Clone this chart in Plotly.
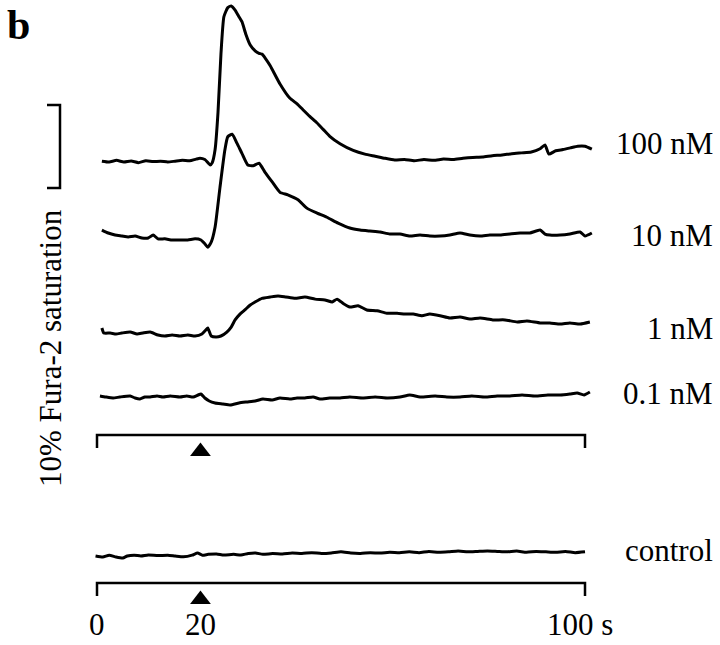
import plotly.graph_objects as go

# Fura-2 responses: time (s) and change in saturation (%) from each cell's resting level
TIME_100NM = [1.0, 2.5, 4.0, 5.5, 7.0, 8.5, 10.0, 11.5, 13.0, 14.5,
              16.0, 17.5, 19.0, 20.3, 21.1, 22.1, 23.2, 23.6, 24.2, 24.8,
              25.4, 26.0, 26.8, 27.5, 28.3, 29.0, 29.7, 30.5, 31.4, 32.4,
              33.2, 33.8, 34.6, 35.5, 37.5, 39.5, 41.0, 42.2, 43.6, 45.1,
              46.4, 47.7, 49.8, 52.5, 54.9, 57.0, 59.0, 61.0, 63.0, 65.0,
              67.0, 69.0, 71.0, 73.0, 75.0, 77.0, 79.0, 81.0, 83.0, 85.0,
              87.0, 89.0, 90.8, 91.8, 92.6, 94.0, 95.5, 97.0, 98.5, 100.0,
              101.4]
SAT_100NM = [0.10, 0.00, 0.20, 0.00, 0.12, -0.08, 0.15, 0.05, 0.10, 0.00,
             0.10, 0.20, 0.15, 0.35, 0.45, 0.30, -0.35, -0.10, 1.5, 6.0,
             13.0, 17.5, 18.6, 18.8, 18.3, 17.6, 16.9, 15.4, 14.1, 13.4,
             13.1, 13.0, 12.4, 11.6, 9.4, 7.7, 7.0, 6.3, 5.5, 4.7,
             3.9, 3.1, 2.2, 1.4, 0.95, 0.70, 0.45, 0.25, 0.30, 0.15,
             0.30, 0.20, 0.35, 0.30, 0.45, 0.55, 0.60, 0.75, 0.85, 1.00,
             1.10, 1.20, 1.60, 2.05, 0.95, 1.35, 1.50, 1.70, 1.90, 1.90,
             1.55]

TIME_10NM = [1.0, 2.3, 3.7, 5.1, 6.4, 7.8, 9.2, 10.5, 11.5, 12.5,
             13.9, 15.4, 17.0, 18.6, 20.1, 21.3, 22.1, 22.7, 23.4, 24.2,
             25.2, 26.2, 26.8, 27.7, 28.7, 29.7, 30.9, 32.0, 33.2, 34.4,
             35.9, 37.5, 39.1, 41.2, 43.0, 45.1, 47.1, 49.4, 51.8, 53.9,
             55.9, 58.0, 60.0, 62.1, 64.1, 66.2, 68.2, 70.3, 72.3, 74.4,
             76.4, 78.5, 80.5, 82.6, 84.6, 86.7, 88.7, 90.8, 91.8, 92.8,
             94.9, 96.9, 99.0, 100.0, 101.4]
SAT_10NM = [0.96, 0.60, 0.36, 0.24, 0.12, 0.24, 0.00, 0.00, 0.36, -0.10,
            -0.10, -0.24, -0.24, -0.24, -0.10, -0.24, -0.70, -1.10, -0.50, 1.33,
            6.1, 10.6, 12.2, 12.5, 11.4, 10.2, 8.8, 8.7, 9.0, 7.95,
            6.75, 5.5, 5.2, 4.6, 3.6, 3.0, 2.5, 1.8, 1.2, 0.96,
            0.84, 0.72, 0.48, 0.48, 0.24, 0.36, 0.24, 0.24, 0.36, 0.60,
            0.36, 0.24, 0.36, 0.36, 0.48, 0.60, 0.60, 0.96, 0.48, 0.36,
            0.36, 0.48, 0.72, 0.24, 0.60]

TIME_1NM = [1.0, 1.4, 2.7, 3.9, 5.1, 6.8, 8.2, 9.4, 10.9, 12.5,
            13.9, 15.4, 17.0, 18.6, 20.1, 21.5, 22.3, 22.7, 23.4, 24.4,
            25.4, 26.6, 27.5, 28.3, 29.3, 30.3, 31.4, 32.4, 33.8, 35.5,
            37.1, 38.7, 40.6, 42.6, 44.7, 46.7, 48.2, 49.2, 50.4, 51.8,
            53.5, 55.3, 57.4, 59.4, 61.5, 63.1, 64.8, 66.6, 68.2, 70.3,
            72.3, 74.4, 76.4, 78.5, 81.1, 83.6, 86.1, 88.1, 90.8, 92.8,
            94.9, 96.9, 99.0, 101.0]
SAT_1NM = [0.72, 0.12, 0.12, 0.00, 0.12, 0.24, 0.00, 0.12, 0.24, -0.12,
           -0.24, -0.12, -0.24, -0.12, -0.24, 0.00, 0.48, 0.72, -0.24, -0.36,
           -0.24, 0.24, 0.84, 1.70, 2.40, 2.90, 3.50, 3.86, 4.30, 4.46,
           4.58, 4.46, 4.30, 4.46, 4.20, 4.10, 3.86, 4.20, 3.70, 3.25,
           3.40, 2.90, 2.80, 2.50, 2.50, 2.40, 2.40, 2.20, 2.40, 2.20,
           1.93, 2.05, 1.80, 1.93, 1.70, 1.70, 1.45, 1.57, 1.33, 1.33,
           1.20, 1.33, 1.20, 1.45]

TIME_01NM = [0.6, 1.8, 3.3, 4.7, 6.8, 7.8, 8.8, 9.8, 10.9, 12.3,
             13.5, 15.0, 17.0, 18.4, 19.7, 20.7, 21.3, 22.1, 23.0, 24.2,
             25.8, 27.3, 29.1, 30.7, 32.4, 34.0, 35.9, 37.5, 39.5, 41.0,
             42.6, 44.3, 45.7, 47.7, 49.8, 51.8, 54.5, 57.0, 59.6, 62.1,
             64.1, 66.2, 69.3, 71.7, 74.4, 76.8, 79.5, 82.0, 84.6, 87.1,
             89.8, 92.4, 94.9, 96.9, 98.4, 99.8, 101.0]
SAT_01NM = [0.00, -0.12, -0.24, -0.12, 0.00, -0.24, -0.36, -0.12, -0.12, 0.00,
            -0.12, 0.00, -0.12, 0.00, -0.12, 0.12, 0.24, -0.24, -0.60, -0.84,
            -0.96, -1.08, -0.84, -0.72, -0.60, -0.36, -0.48, -0.24, -0.36, -0.24,
            -0.24, -0.12, -0.36, -0.24, -0.24, -0.12, -0.24, -0.12, -0.24, -0.12,
            0.12, -0.12, 0.00, -0.12, -0.12, 0.00, -0.12, 0.00, 0.00, 0.12,
            0.00, 0.12, 0.12, 0.24, 0.36, 0.12, 0.48]

TIME_CONTROL = [-0.3, 1.2, 2.5, 3.9, 5.3, 6.2, 7.6, 9.0, 10.5, 12.5,
                14.5, 16.0, 17.7, 19.5, 20.6, 21.6, 22.8, 24.5, 26.0, 28.0,
                29.5, 31.0, 32.5, 34.0, 36.0, 38.0, 40.0, 42.0, 44.0, 46.0,
                48.0, 50.0, 52.0, 54.0, 56.0, 58.0, 60.0, 62.0, 64.0, 66.0,
                68.0, 70.0, 72.0, 74.0, 76.0, 78.0, 80.0, 82.0, 84.0, 86.0,
                88.0, 90.0, 92.0, 94.0, 96.0, 98.0, 100.0]
SAT_CONTROL = [0.00, -0.12, 0.10, -0.12, -0.24, 0.00, 0.10, 0.00, 0.12, 0.05,
               0.10, 0.00, -0.10, 0.10, 0.36, 0.10, 0.20, 0.25, 0.12, 0.20,
               0.12, 0.30, 0.36, 0.20, 0.30, 0.25, 0.36, 0.30, 0.40, 0.30,
               0.36, 0.50, 0.35, 0.30, 0.40, 0.35, 0.45, 0.40, 0.50, 0.40,
               0.55, 0.45, 0.50, 0.60, 0.50, 0.55, 0.60, 0.55, 0.50, 0.60,
               0.45, 0.55, 0.50, 0.45, 0.55, 0.40, 0.50]

LABELS = ["100 nM", "10 nM", "1 nM", "0.1 nM", "control"]
STIMULUS_TIME = 21.2          # arrow position as drawn under the sweeps
SWEEP = [0, 100]              # time bracket, s
TICK_TEXT = ["0", "20", "100 s"]
SCALE_BAR = 10                # % Fura-2 saturation

# Page geometry (pixels), used only to place things
WIDTH, HEIGHT = 720, 645
X0_PX, PX_PER_S = 97, 4.88
PX_PER_PCT = 8.3
BASELINE_PX = [162, 238, 334, 396, 556]
LABEL_PX = [143, 235, 328, 393, 550]
BRACKET_PX = [435, 583]
FONT = "Liberation Serif, Times New Roman, serif"


def t_at(px):
    return (px - X0_PX) / PX_PER_S


def y_at(py):
    return (HEIGHT - py) / PX_PER_PCT


def main():
    traces = [
        (TIME_100NM, SAT_100NM),
        (TIME_10NM, SAT_10NM),
        (TIME_1NM, SAT_1NM),
        (TIME_01NM, SAT_01NM),
        (TIME_CONTROL, SAT_CONTROL),
    ]
    fig = go.Figure()
    line = dict(color="black", width=3, shape="spline", smoothing=0.5)

    for (t, sat), base_px in zip(traces, BASELINE_PX):
        assert len(t) == len(sat)
        base = y_at(base_px)
        fig.add_trace(go.Scatter(x=t, y=[base + v for v in sat], mode="lines",
                                 line=line, hoverinfo="skip"))

    # time brackets with stimulus arrows
    tick = 13 / PX_PER_PCT
    for b_px in BRACKET_PX:
        yb = y_at(b_px)
        fig.add_trace(go.Scatter(
            x=[SWEEP[0], SWEEP[0], SWEEP[1], SWEEP[1]],
            y=[yb - tick, yb, yb, yb - tick],
            mode="lines", line=dict(color="black", width=2.5), hoverinfo="skip"))
        fig.add_trace(go.Scatter(
            x=[STIMULUS_TIME], y=[yb - 16.5 / PX_PER_PCT], mode="markers",
            marker=dict(symbol="triangle-up", size=18, color="black"),
            hoverinfo="skip"))

    # calibration bar
    top, bot = y_at(105), y_at(105 + SCALE_BAR * PX_PER_PCT)
    fig.add_trace(go.Scatter(
        x=[t_at(47), t_at(60), t_at(60), t_at(47)], y=[top, top, bot, bot],
        mode="lines", line=dict(color="black", width=2.5), hoverinfo="skip"))

    ann = []
    for label, py in zip(LABELS, LABEL_PX):
        ann.append(dict(x=t_at(715), y=y_at(py), text=label, showarrow=False,
                        xanchor="right", yanchor="middle",
                        font=dict(family=FONT, size=31, color="black")))
    for text, t in zip(TICK_TEXT, [SWEEP[0], STIMULUS_TIME, 99]):
        ann.append(dict(x=t, y=y_at(HEIGHT - 1), text=text, showarrow=False,
                        xanchor="center", yanchor="bottom",
                        font=dict(family=FONT, size=31, color="black")))
    ann.append(dict(x=t_at(50), y=y_at(348), text="10% Fura-2 saturation",
                    textangle=-90, showarrow=False, xanchor="center",
                    yanchor="middle", font=dict(family=FONT, size=31, color="black")))
    ann.append(dict(x=t_at(5), y=y_at(0), text="<b>b</b>", showarrow=False,
                    xanchor="left", yanchor="top",
                    font=dict(family=FONT, size=42, color="black")))

    fig.update_layout(
        width=WIDTH, height=HEIGHT,
        margin=dict(l=0, r=0, t=0, b=0),
        paper_bgcolor="white", plot_bgcolor="white",
        showlegend=False, annotations=ann,
        xaxis=dict(range=[t_at(0), t_at(WIDTH)], visible=False, fixedrange=True),
        yaxis=dict(range=[y_at(HEIGHT), y_at(0)], visible=False, fixedrange=True),
    )
    # the page's default body margin would push the figure 8px off the window
    fig.write_html("out.html", config={"displayModeBar": False},
                   post_script="document.body.style.margin = '0px';")


if __name__ == "__main__":
    main()
